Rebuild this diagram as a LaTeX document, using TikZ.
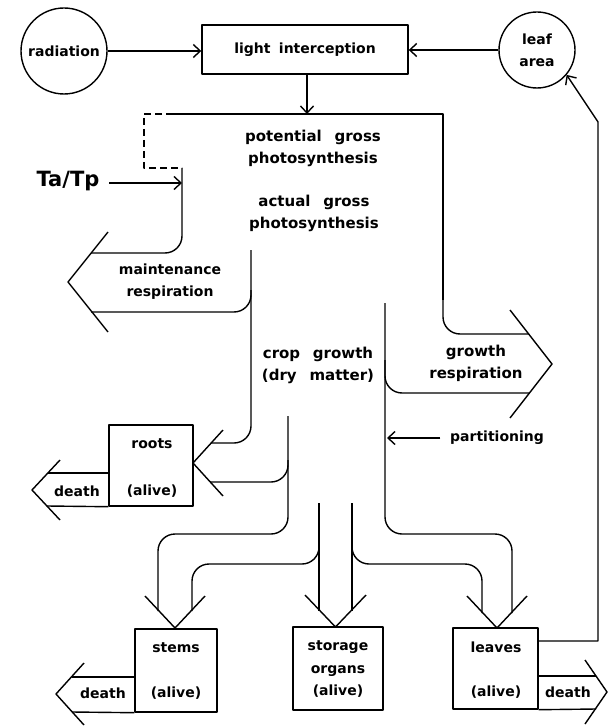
\documentclass[tikz,border=0pt]{standalone}
\usepackage{fontspec}
\setmainfont{DejaVu Sans}
\usetikzlibrary{arrows.meta}
\newcommand{\wgap}{\hspace{0.6em}}
\newcommand{\wgapw}{\hspace{0.85em}}
\begin{document}
\begin{tikzpicture}[x=1pt,y=-1pt,line width=1.4pt,line join=round,
  txt/.style={font=\bfseries\fontsize{14}{22}\selectfont,align=center,inner sep=0pt},
  ltxt/.style={font=\bfseries\fontsize{15}{22}\selectfont,align=center,inner sep=0pt},
  bigtxt/.style={font=\bfseries\fontsize{21}{24}\selectfont,inner sep=0pt},
  boxnode/.style={draw,inner sep=0pt},
  circnode/.style={draw,circle,inner sep=0pt},
  arr/.style={-{Straight Barb[length=7pt,width=13pt,line width=1.4pt]}},
  band/.style={rounded corners=17pt},
  dashline/.style={dash pattern=on 7pt off 4pt}]
\useasboundingbox (0,0) rectangle (607,727);
\fill[white] (0,0) rectangle (607,727);

% ---------- nodes ----------
\node[circnode,txt,minimum size=86pt] (rad) at (64,51) {radiation};
\node[circnode,txt,minimum size=76pt] (leaf) at (537,50) {leaf\\area};
\node[boxnode,txt,minimum width=206pt,minimum height=49pt] (light) at (305,49.5) {light\wgap interception};

\node[boxnode,minimum width=84pt,minimum height=81pt] (roots) at (151,465.5) {};
\node[boxnode,minimum width=82pt,minimum height=83pt] (stems) at (176,670.5) {};
\node[boxnode,minimum width=90pt,minimum height=83pt] (storage) at (338,668.5) {};
\node[boxnode,minimum width=85pt,minimum height=81pt] (leaves) at (495.5,668.5) {};

\node[txt] (rootsT) at (152,444) {roots};
\node[txt] (rootsA) at (152,491) {(alive)};
\node[txt] (rootsD) at (77,491) {death};
\node[txt] (stemsT) at (176,648) {stems};
\node[txt] (stemsA) at (176,693) {(alive)};
\node[txt] (stemsD) at (103,693) {death};
\node[txt,font=\bfseries\fontsize{14}{22.5}\selectfont] (storT) at (338,669) {storage\\organs\\(alive)};
\node[txt] (leavesT) at (496,647) {leaves};
\node[txt] (leavesA) at (496,692) {(alive)};
\node[txt] (leavesD) at (568,692) {death};

\node[ltxt] (pgp) at (313,148) {potential\wgapw gross\\photosynthesis};
\node[ltxt] (agp) at (314,213) {actual\wgapw gross\\photosynthesis};
\node[txt] (mres) at (170,282) {maintenance\\respiration};
\node[ltxt] (cgr) at (318,365) {crop\wgapw growth\\(dry\wgapw matter)};
\node[ltxt] (gres) at (476,363) {growth\\respiration};
\node[txt] (part) at (497,438) {partitioning};
\node[bigtxt] (tatp) at (68,181) {Ta/Tp};

% ---------- thin arrows ----------
\coordinate (topin) at (307,114);
\coordinate (tatpEnd) at (182,183);
\coordinate (partEnd) at (387,438);
\coordinate (fbA) at (598,641);
\coordinate (fbB) at (598,122);
\draw[arr] (rad.east) -- (rad.east -| light.west);
\draw[arr] (leaf.west) -- (leaf.west -| light.east);
\draw[arr] (light.south -| topin) -- (topin);
\draw[arr] ([xshift=9pt]tatp.east |- tatpEnd) -- (tatpEnd);
\draw[arr] ([xshift=-9pt]part.west) -- (partEnd);
\draw[arr] (leaves.east |- fbA) -- (fbA) -- (fbB) -- (leaf.-40);

% ---------- broad flow arrows ----------
% total assimilate band
\draw[dashline] (173,114) -- (144,114) -- (144,168) -- (182,168);
\draw (173,114) -- (443,114) -- (443,300);
% growth respiration
\draw[band] (443,280) -- (443,334) -- (529,334);
\draw (510,310) -- (552,364) -- (510,418);
\draw[band] (529,393) -- (385,393) -- (385,360);
% maintenance respiration
\draw[band] (182,168) -- (182,253) -- (91,253);
\draw (108,232) -- (68,282) -- (108,332);
\draw[band] (91,312) -- (251,312) -- (251,290);
% crop growth: left edge and roots
\draw[band] (251,250) -- (251,443) -- (211,443);
\draw (223,430) -- (193,463) -- (223,496);
\draw[band] (210,482) -- (288,482) -- (288,460);
% stems
\draw[band] (288,416) -- (288,534) -- (158,534) -- (158,611);
\draw[band] (192,611) -- (192,564) -- (319,564) -- (319,530);
\draw (145,596) -- (175,628) -- (205,596);
% storage organs
\draw (319,503) -- (319,611);
\draw (352,503) -- (352,611);
\draw (305,595) -- (335.5,627) -- (366,595);
% leaves
\draw[band] (385,303) -- (385,534) -- (512,534) -- (512,613);
\draw[band] (482,613) -- (482,564) -- (352,564) -- (352,530);
\draw (467,596) -- (497,628) -- (527,596);

% ---------- death arrows ----------
\draw (roots.south west) -- (47,506);
\draw (109,473) -- (48,473);
\draw (60,460) -- (32,490) -- (60,520);
\draw (stems.south west) -- (72,712);
\draw (135,677) -- (72,677);
\draw (84,663) -- (56,694) -- (84,725);
\draw (leaves.south east) -- (596,709);
\draw (538,676) -- (596,676);
\draw (585,660) -- (607,692) -- (585,724);
\end{tikzpicture}
\end{document}
